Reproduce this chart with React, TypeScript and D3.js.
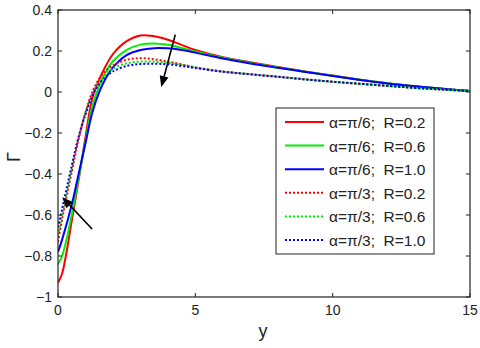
import React from 'react';
import * as d3 from 'd3';

// x positions (y-axis variable "y") where curves were read
const yPts = [0, 0.15, 0.5, 0.75, 1, 1.25, 1.5, 1.75, 2, 2.5, 3, 3.5, 4, 4.5, 5, 6, 7, 8, 9, 10, 11, 12, 13, 14, 15];

// alpha = pi/6
const solidR02 = [-0.93, -0.885, -0.63, -0.43, -0.22, -0.03, 0.06, 0.13, 0.185, 0.248, 0.276, 0.272, 0.255, 0.23, 0.205, 0.17, 0.145, 0.122, 0.1, 0.08, 0.06, 0.043, 0.028, 0.016, 0.005];
const solidR06 = [-0.84, -0.8, -0.6, -0.42, -0.24, -0.07, 0.03, 0.1, 0.15, 0.205, 0.231, 0.237, 0.23, 0.215, 0.198, 0.167, 0.142, 0.12, 0.099, 0.079, 0.06, 0.043, 0.028, 0.016, 0.005];
const solidR10 = [-0.78, -0.72, -0.55, -0.4, -0.25, -0.1, 0.0, 0.07, 0.12, 0.18, 0.205, 0.214, 0.213, 0.205, 0.192, 0.163, 0.139, 0.118, 0.098, 0.078, 0.059, 0.042, 0.028, 0.016, 0.005];
// alpha = pi/3
const dotR02 = [-0.73, -0.62, -0.39, -0.23, -0.1, 0.0, 0.065, 0.105, 0.13, 0.157, 0.165, 0.16, 0.148, 0.135, 0.12, 0.1, 0.087, 0.075, 0.062, 0.05, 0.04, 0.03, 0.02, 0.012, 0.005];
const dotR06 = [-0.7, -0.6, -0.37, -0.22, -0.1, -0.01, 0.05, 0.09, 0.115, 0.14, 0.148, 0.148, 0.142, 0.132, 0.12, 0.1, 0.087, 0.075, 0.062, 0.05, 0.04, 0.03, 0.02, 0.012, 0.005];
const dotR10 = [-0.66, -0.57, -0.36, -0.22, -0.11, -0.02, 0.04, 0.075, 0.1, 0.127, 0.136, 0.138, 0.135, 0.127, 0.117, 0.099, 0.086, 0.074, 0.061, 0.05, 0.04, 0.03, 0.02, 0.012, 0.005];

const legendLabels = [
  'α=π/6;  R=0.2',
  'α=π/6;  R=0.6',
  'α=π/6;  R=1.0',
  'α=π/3;  R=0.2',
  'α=π/3;  R=0.6',
  'α=π/3;  R=1.0',
];

const xTicks = [0, 5, 10, 15];
const yTicks = [-1, -0.8, -0.6, -0.4, -0.2, 0, 0.2, 0.4];

// arrows in data coords: [from, to]
const arrows = [
  [[4.27, 0.28], [3.76, 0.024]],
  [[1.24, -0.668], [0.15, -0.513]],
];

const App = () => {
  const w = 480, h = 348;
  const left = 58, right = 470, top = 10, bottom = 297;

  const x = d3.scaleLinear().domain([0, 15]).range([left, right]);
  const y = d3.scaleLinear().domain([-1, 0.4]).range([bottom, top]);

  const line = d3.line<number>()
    .x((d, i) => x(yPts[i]))
    .y(d => y(d))
    .curve(d3.curveCatmullRom.alpha(0.5));

  const series = [
    { vals: solidR02, color: '#ff0000', dash: null },
    { vals: solidR06, color: '#00ee00', dash: null },
    { vals: solidR10, color: '#0000ff', dash: null },
    { vals: dotR02, color: '#ff0000', dash: '2 2' },
    { vals: dotR06, color: '#00ee00', dash: '2 2' },
    { vals: dotR10, color: '#0000ff', dash: '2 2' },
  ];

  const font = 'Liberation Sans, Arial, sans-serif';
  const lgX = 276, lgY = 108, lgW = 158, lgH = 146;

  return (
    <svg width={w} height={h} style={{ position: 'absolute', left: 0, top: 0, background: '#fff' }}>
      <defs>
        <clipPath id="plot">
          <rect x={left} y={top} width={right - left} height={bottom - top} />
        </clipPath>
      </defs>
      <g clipPath="url(#plot)">
        {series.map((s, i) => (
          <path key={i} d={line(s.vals) || ''} fill="none" stroke={s.color}
            strokeWidth={2} strokeDasharray={s.dash || undefined} />
        ))}
      </g>

      {/* axes box */}
      <rect x={left} y={top} width={right - left} height={bottom - top} fill="none" stroke="#222" strokeWidth={1.2} />
      {xTicks.map(t => (
        <g key={'x' + t}>
          <line x1={x(t)} x2={x(t)} y1={bottom} y2={bottom - 4} stroke="#222" />
          <line x1={x(t)} x2={x(t)} y1={top} y2={top + 4} stroke="#222" />
          <text x={x(t)} y={bottom + 18} textAnchor="middle" fontSize={14} fontFamily={font} fill="#222">{t}</text>
        </g>
      ))}
      {yTicks.map(t => (
        <g key={'y' + t}>
          <line x1={left} x2={left + 4} y1={y(t)} y2={y(t)} stroke="#222" />
          <line x1={right} x2={right - 4} y1={y(t)} y2={y(t)} stroke="#222" />
          <text x={left - 6} y={y(t) + 5} textAnchor="end" fontSize={14} fontFamily={font} fill="#222">{d3.format('')(+t.toFixed(1))}</text>
        </g>
      ))}
      <text x={263} y={337} textAnchor="middle" fontSize={18} fontFamily={font} fill="#222">y</text>
      <text transform="translate(20,157) rotate(-90)" textAnchor="middle" fontSize={18} fontFamily={font} fill="#222">Γ</text>

      {/* arrows */}
      {arrows.map((a, i) => {
        const x1 = x(a[0][0]), y1 = y(a[0][1]), x2 = x(a[1][0]), y2 = y(a[1][1]);
        const ang = Math.atan2(y2 - y1, x2 - x1);
        const L = 11, hw = 4.5;
        const bx = x2 - L * Math.cos(ang), by = y2 - L * Math.sin(ang);
        const p1 = [bx + hw * Math.sin(ang), by - hw * Math.cos(ang)];
        const p2 = [bx - hw * Math.sin(ang), by + hw * Math.cos(ang)];
        return (
          <g key={'a' + i}>
            <line x1={x1} y1={y1} x2={bx} y2={by} stroke="#000" strokeWidth={1.6} />
            <polygon points={`${x2},${y2} ${p1[0]},${p1[1]} ${p2[0]},${p2[1]}`} fill="#000" />
          </g>
        );
      })}

      {/* legend */}
      <rect x={lgX} y={lgY} width={lgW} height={lgH} fill="#fff" stroke="#222" strokeWidth={1} />
      {legendLabels.map((lab, i) => {
        const ry = 122 + i * 23.6;
        const s = series[i];
        return (
          <g key={'l' + i}>
            <line x1={285} x2={324} y1={ry} y2={ry} stroke={s.color} strokeWidth={2} strokeDasharray={s.dash || undefined} />
            <text x={329} y={ry + 6} fontSize={15.5} fontFamily={font} fill="#222" style={{ whiteSpace: 'pre' }}>{lab}</text>
          </g>
        );
      })}
    </svg>
  );
};

export default App;
